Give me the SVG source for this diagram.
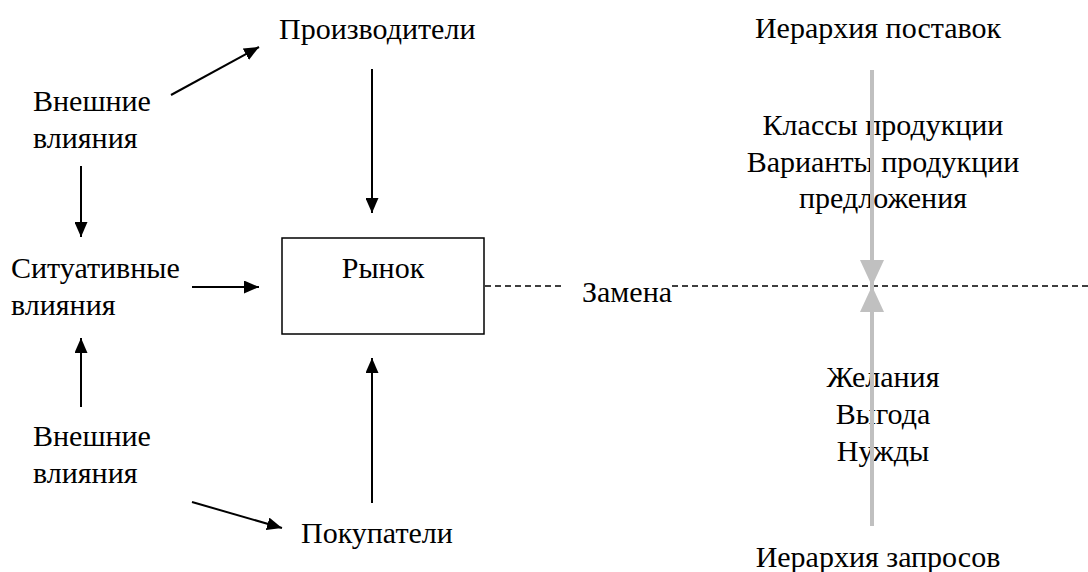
<svg xmlns="http://www.w3.org/2000/svg" width="1088" height="572" viewBox="0 0 1088 572">
<style>
.t{font-family:'Liberation Serif','Times New Roman',serif;font-size:30px;fill:#000}
.c{text-anchor:middle}
.a{stroke:#000;stroke-width:2;fill:none}
.g{stroke:#c0c0c0;stroke-width:4;fill:none}
.d{stroke:#000;stroke-width:1.5;stroke-dasharray:6,4;fill:none}
</style>
<defs>
<marker id="ah" viewBox="0 0 15 13" refX="15" refY="6.5" markerWidth="15" markerHeight="13" markerUnits="userSpaceOnUse" orient="auto">
<path d="M0,0 L15,6.5 L0,13 Z" fill="#000"/>
</marker>
<marker id="gh" viewBox="0 0 26 24" refX="26" refY="12" markerWidth="26" markerHeight="24" markerUnits="userSpaceOnUse" orient="auto">
<path d="M0,0 L26,12 L0,24 Z" fill="#c0c0c0"/>
</marker>
</defs>
<g id="producers"><text class="t" x="279" y="39">Производители</text></g>
<g id="ext-top"><text class="t" x="33" y="111">Внешние</text><text class="t" x="33" y="148">влияния</text></g>
<g id="situational"><text class="t" x="11" y="278">Ситуативные</text><text class="t" x="11" y="315">влияния</text></g>
<g id="ext-bottom"><text class="t" x="33" y="446">Внешние</text><text class="t" x="33" y="483">влияния</text></g>
<g id="buyers"><text class="t" x="301" y="543">Покупатели</text></g>
<g id="market"><rect x="282" y="238" width="202" height="96" fill="#fff" stroke="#000" stroke-width="1.5"/><text class="t c" x="383" y="278">Рынок</text></g>
<g id="substitution"><text class="t" x="582" y="302">Замена</text></g>
<g id="supply-hierarchy"><text class="t c" x="878" y="38">Иерархия поставок</text></g>
<g id="supply-items"><text class="t c" x="883" y="135">Классы продукции</text><text class="t c" x="883" y="172">Варианты продукции</text><text class="t c" x="883" y="208">предложения</text></g>
<g id="demand-items"><text class="t c" x="883" y="387">Желания</text><text class="t c" x="883" y="424">Выгода</text><text class="t c" x="883" y="461">Нужды</text></g>
<g id="demand-hierarchy"><text class="t c" x="878" y="567">Иерархия запросов</text></g>
<g id="connectors">
<line class="a" x1="171" y1="95" x2="259" y2="47" marker-end="url(#ah)"/>
<line class="a" x1="372" y1="69" x2="372" y2="213" marker-end="url(#ah)"/>
<line class="a" x1="81" y1="166" x2="81" y2="237" marker-end="url(#ah)"/>
<line class="a" x1="192" y1="287" x2="259" y2="287" marker-end="url(#ah)"/>
<line class="a" x1="81" y1="407" x2="81" y2="338" marker-end="url(#ah)"/>
<line class="a" x1="372" y1="503" x2="372" y2="358" marker-end="url(#ah)"/>
<line class="a" x1="192" y1="502" x2="282" y2="528" marker-end="url(#ah)"/>
<line class="d" x1="485" y1="286" x2="562" y2="286"/>
<line class="d" x1="672" y1="286" x2="1088" y2="286"/>
<line class="g" x1="872" y1="70" x2="872" y2="286" marker-end="url(#gh)"/>
<line class="g" x1="872" y1="526" x2="872" y2="286" marker-end="url(#gh)"/>
</g>
</svg>
